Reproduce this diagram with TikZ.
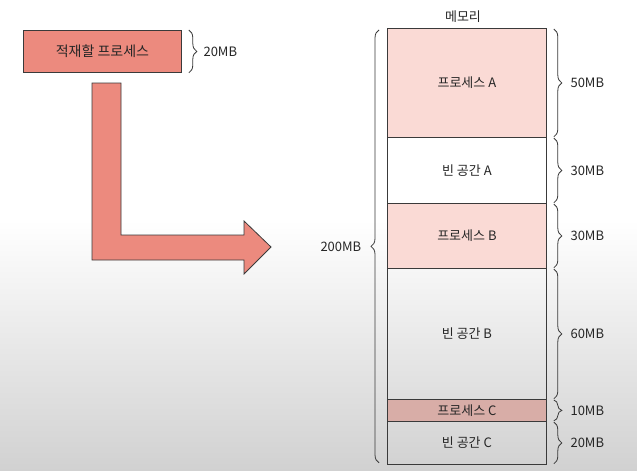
\documentclass[tikz,border=0pt]{standalone}
\usepackage{fontspec}
\newfontfamily\kr{Noto Sans CJK KR}
\usetikzlibrary{decorations.pathreplacing,calc}
\definecolor{salmon}{HTML}{EC8A7E}
\definecolor{procA}{HTML}{FADAD5}
\definecolor{procC}{HTML}{D8ADA7}
\definecolor{edge}{HTML}{3A3A3A}
\begin{document}
\begin{tikzpicture}[x=1pt,y=-1pt,
  lbl/.style={font=\kr\fontsize{13}{15}\selectfont, text=black!85},
  seg/.style={draw=edge, line width=0.8pt},
  brc/.style={draw=edge, line width=0.8pt, decorate, decoration={brace, amplitude=8pt}}]
\useasboundingbox (0,0) rectangle (637,471);
\shade[top color=white, bottom color=white] (0,0) rectangle (637,220);
\shade[top color=white, bottom color=black!18] (0,220) rectangle (637,471);
% load process
\node[seg, fill=salmon, minimum width=158pt, minimum height=42pt, anchor=north west, lbl, font=\kr\fontsize{14}{16}\selectfont] (load) at (23,30) {적재할 프로세스};
\draw[brc] ($(load.north east)+(7,0)$) -- ($(load.south east)+(7,0)$) node[midway, right=11pt, lbl] (l20) {20MB};
% arrow
\draw[draw=edge, line width=0.8pt, fill=salmon] (92,83) -- (121,83) -- (121,235) -- (244,235) -- (244,221) -- (271,247) -- (244,274) -- (244,260) -- (92,260) -- cycle;
% memory
\node[lbl] (memt) at (463,17) {메모리};
\node[seg, fill=procA, anchor=north west, minimum width=159pt, minimum height=109pt, lbl] (pa) at (387,28) {프로세스 A};
\node[seg, fill=white, anchor=north west, minimum width=159pt, minimum height=66pt, lbl] (ea) at (387,137) {빈 공간 A};
\node[seg, fill=procA, anchor=north west, minimum width=159pt, minimum height=65pt, lbl] (pb) at (387,203) {프로세스 B};
\node[seg, anchor=north west, minimum width=159pt, minimum height=131pt, lbl] (eb) at (387,268) {빈 공간 B};
\node[seg, fill=procC, anchor=north west, minimum width=159pt, minimum height=22pt, lbl] (pc) at (387,399) {프로세스 C};
\node[seg, anchor=north west, minimum width=159pt, minimum height=43pt, lbl] (ec) at (387,421) {빈 공간 C};
% right braces
\foreach \n/\t in {pa/50MB, ea/30MB, pb/30MB, eb/60MB, pc/10MB, ec/20MB}{
  \draw[brc] ($(\n.north east)+(7,1)$) -- ($(\n.south east)+(7,-1)$) node[midway, right=13pt, lbl] {\t};
}
% left brace
\draw[brc] ($(ec.south west)+(-8,-2)$) -- ($(pa.north west)+(-8,2)$) node[midway, left=14pt, lbl] (t200) {200MB};
\end{tikzpicture}
\end{document}
